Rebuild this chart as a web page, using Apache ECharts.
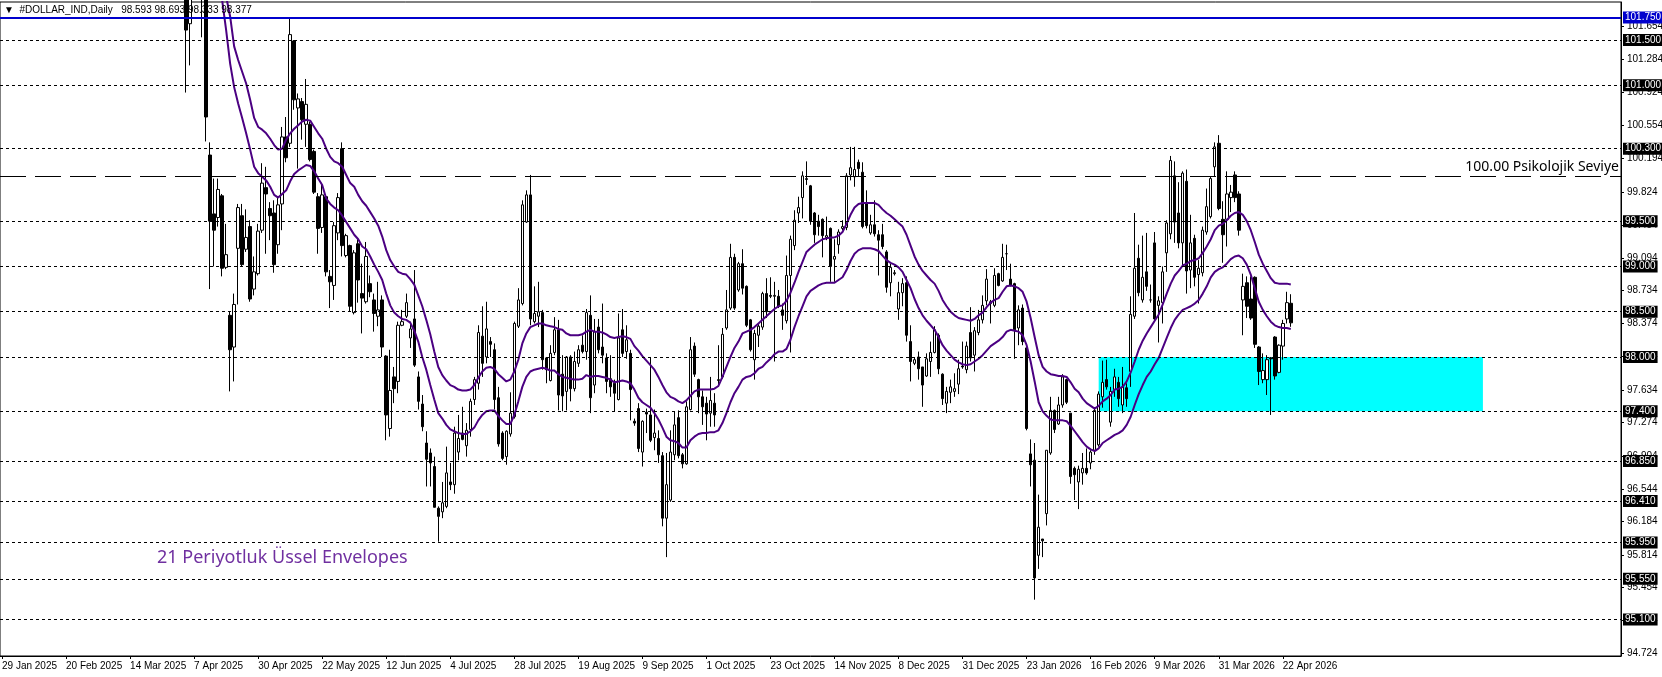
<!DOCTYPE html>
<html><head><meta charset="utf-8">
<script src="https://cdn.jsdelivr.net/npm/echarts@6/dist/echarts.min.js"></script>
<style>html,body{margin:0;padding:0;background:#fff}#c{width:1662px;height:677px}</style>
</head><body><div id="c"></div>
<script>
// ---- data ----
const symbolName = '#DOLLAR_IND,Daily';
const indicatorText = '21 Periyotluk Üssel Envelopes';
const psychText = '100.00 Psikolojik Seviye';
const slotCount = 405;           // daily slots shown (incl. empty right margin)
const firstBar = 46;             // bars before this are above the visible range
const dateLabels = ['29 Jan 2025','20 Feb 2025','14 Mar 2025','7 Apr 2025','30 Apr 2025','22 May 2025','12 Jun 2025','4 Jul 2025','28 Jul 2025','19 Aug 2025','9 Sep 2025','1 Oct 2025','23 Oct 2025','14 Nov 2025','8 Dec 2025','31 Dec 2025','23 Jan 2026','16 Feb 2026','9 Mar 2026','31 Mar 2026','22 Apr 2026'];
const labelEvery = 16;
const priceTicks = [94.724,95.094,95.454,95.814,96.184,96.544,96.904,97.274,97.634,98.004,98.374,98.734,99.094,99.454,99.824,100.194,100.554,100.924,101.284,101.654];
const priceMin = 94.698, priceMax = 101.92;
const dottedLevels = [101.5,101.0,100.3,99.5,99.0,98.5,98.0,97.4,96.85,96.41,95.95,95.55,95.1];
const blueLevel = 101.75;
const psychLevel = 100.0;
const zoneTop = 98.0, zoneBottom = 97.4, zoneStart = 274, zoneEnd = 370;

const open = [
102.6,101.68,102.2,102.6,102.3,102.0,100.23,99.58,99.54,99.78,
98.99,98.46,98.11,99.20,99.56,99.19,99.44,98.75,98.92,99.40,
99.87,99.64,99.59,99.24,99.69,100.43,100.36,101.49,100.75,100.82,
100.57,100.57,100.27,99.77,99.43,99.77,98.89,98.79,99.37,100.30,
99.12,99.23,98.49,99.25,98.70,98.61,98.81,98.63,98.45,98.63,
98.01,97.21,97.78,97.73,98.35,98.45,98.21,98.42,97.78,97.48,
97.05,96.94,96.79,96.33,96.29,96.35,96.62,96.59,96.95,97.16,
97.02,97.20,97.53,97.71,98.23,98.00,98.17,98.08,97.55,97.16,
96.90,97.15,97.34,98.34,98.59,99.49,99.79,98.39,98.45,98.49,
97.99,97.74,98.05,98.30,97.81,97.62,98.00,97.65,97.93,98.13,
98.06,98.46,97.69,98.33,98.11,97.99,97.76,97.71,97.53,98.30,
98.06,98.04,97.29,97.43,96.95,97.39,97.36,97.11,97.10,96.91,
96.22,96.42,96.92,97.33,96.92,96.82,97.42,98.12,97.75,97.56,
97.49,97.38,97.49,97.74,97.78,98.32,98.54,99.10,98.74,99.03,
98.78,98.41,97.97,98.24,98.33,98.70,98.68,98.67,98.67,98.52,
98.40,98.90,99.23,99.59,99.76,99.96,99.89,99.59,99.50,99.52,
99.32,99.42,99.08,99.24,99.42,99.43,100.01,99.99,100.15,100.04,
99.69,99.37,99.46,99.35,99.35,99.16,98.82,98.92,98.53,98.71,
98.82,98.17,97.93,98.00,97.89,97.79,97.95,98.05,98.24,97.81,
97.49,97.61,97.62,97.70,97.90,97.86,98.27,98.02,98.27,98.41,
98.62,98.59,98.57,98.92,98.84,99.14,98.86,98.81,98.32,98.54,
98.10,96.93,96.86,95.81,95.99,96.27,96.94,97.41,97.26,97.47,
97.75,97.38,96.77,96.62,96.72,96.77,96.83,96.97,97.03,97.56,
97.75,97.28,97.64,97.72,97.47,97.66,97.84,98.45,99.09,98.63,
98.94,98.63,99.26,98.57,98.60,99.15,99.36,100.00,99.59,99.26,
99.94,98.96,99.31,98.91,98.93,99.38,99.55,100.10,100.36,99.52,
99.52,99.76,100.01,99.80,98.63,98.82,98.64,98.88,98.11,97.75,
97.75,97.99,98.22,97.83,98.12,98.42,98.593];
const high = [
102.8,102.5,102.9,102.9,102.5,102.1,100.37,99.97,99.97,99.80,
99.47,98.50,98.70,99.69,99.69,99.63,99.51,99.11,99.47,100.14,
100.10,99.71,99.73,99.77,100.54,100.65,101.74,101.50,100.91,100.86,
101.07,100.60,100.29,99.81,99.90,99.79,98.96,99.49,99.81,100.37,
99.36,99.24,99.18,99.30,99.03,99.27,98.90,98.70,98.83,98.68,
98.02,98.08,97.89,98.39,98.52,98.70,98.39,98.96,97.84,97.58,
97.18,96.99,96.90,96.35,96.62,97.01,96.83,97.23,97.36,97.45,
97.27,97.54,97.78,98.35,98.56,98.61,98.22,98.15,97.67,97.18,
97.19,97.61,98.39,98.76,99.73,99.84,100.01,98.78,98.83,98.52,
98.00,98.13,98.44,98.41,98.02,98.01,98.02,98.06,98.13,98.24,
98.53,98.68,98.42,98.42,98.59,98.04,98.02,97.75,98.48,98.53,
98.35,98.08,97.32,97.49,97.30,97.43,98.00,97.42,97.19,96.95,
96.94,97.19,97.40,97.41,96.94,97.51,98.22,98.16,97.76,97.63,
97.56,97.78,97.60,98.13,98.32,98.74,99.25,99.14,99.05,99.19,
98.79,98.42,98.30,98.37,98.72,98.87,98.88,98.83,98.74,98.59,
99.12,99.34,99.62,99.77,100.05,100.16,99.90,99.60,99.57,99.53,
99.55,99.43,99.30,99.41,99.51,100.03,100.32,100.32,100.18,100.15,
99.84,99.57,99.73,99.40,99.47,99.18,99.03,98.96,98.83,98.87,
98.89,98.35,97.99,98.06,97.89,98.04,98.17,98.34,98.26,97.82,
97.67,97.75,97.82,97.97,98.17,98.17,98.55,98.33,98.52,98.68,
98.97,98.63,98.98,98.93,99.25,99.24,99.03,98.82,98.57,98.58,
98.11,97.09,97.05,96.48,95.99,96.97,97.56,97.42,97.56,97.81,
97.76,97.38,96.79,96.80,96.94,96.99,96.97,97.43,97.62,97.96,
97.97,97.67,97.87,97.78,97.89,97.71,98.67,99.59,99.24,99.34,
99.37,98.80,99.38,98.67,99.00,99.51,100.22,100.16,99.93,100.05,
100.07,99.57,99.35,99.07,99.44,99.86,99.99,100.37,100.45,99.72,
100.05,99.90,100.05,99.83,98.92,98.89,98.89,98.89,98.12,98.04,
98.02,98.00,98.23,98.14,98.41,98.72,98.693];
const low = [
100.92,101.22,102.0,102.0,101.53,100.38,98.75,99.0,99.44,98.89,
98.97,97.62,97.73,98.58,99.0,99.16,98.61,98.68,98.90,99.37,
99.14,99.29,98.93,99.14,99.40,100.15,100.32,100.73,100.08,100.40,
100.32,100.16,99.80,99.14,99.37,98.89,98.54,98.63,99.29,99.11,
99.10,98.50,98.47,98.60,98.26,98.59,98.66,98.28,98.34,98.00,
97.08,97.12,97.49,97.60,98.34,98.43,98.10,97.89,97.42,97.18,
96.57,96.57,96.34,95.96,96.22,96.33,96.53,96.49,96.86,97.08,
96.90,97.12,97.47,97.64,97.78,97.93,98.00,97.42,97.01,96.86,
96.81,97.12,97.32,98.32,98.57,99.48,98.35,98.37,98.33,97.86,
97.71,97.73,98.02,97.41,97.40,97.41,97.51,97.62,97.89,98.04,
97.97,97.38,97.60,98.04,97.93,97.60,97.56,97.40,97.52,98.00,
97.98,97.30,97.24,96.95,96.79,97.16,97.06,96.97,96.83,96.13,
95.79,96.40,96.86,96.88,96.77,96.81,97.41,97.78,97.38,97.25,
97.08,97.23,97.23,97.67,97.76,98.30,98.52,98.52,98.72,98.69,
98.33,98.06,97.75,98.11,98.30,98.43,98.65,97.95,98.54,98.30,
98.37,98.05,99.18,99.48,99.53,99.90,99.46,99.26,99.34,99.10,
99.29,98.83,98.83,99.14,99.40,99.40,99.95,99.88,99.99,99.42,
99.42,99.35,99.33,98.90,99.19,98.71,98.67,98.90,98.41,98.56,
98.17,97.73,97.91,97.75,97.45,97.78,97.78,98.04,97.81,97.47,
97.38,97.49,97.56,97.59,97.87,97.82,97.95,97.84,98.24,98.37,
98.57,98.37,98.55,98.78,98.83,98.96,98.78,97.98,98.13,98.13,
97.19,96.57,95.32,95.66,95.79,96.14,96.92,97.16,97.25,97.44,
97.48,96.60,96.42,96.32,96.59,96.70,96.76,96.92,97.01,97.44,
97.64,97.23,97.56,97.45,97.38,97.45,97.67,98.42,98.67,98.60,
98.73,98.60,98.41,98.16,98.37,98.94,99.30,99.26,99.20,99.00,
98.70,98.76,98.78,98.59,98.89,99.35,99.53,99.99,99.62,99.04,
99.22,99.60,99.71,99.34,98.24,98.43,98.41,98.10,97.69,97.71,
97.58,97.36,97.75,97.82,97.97,98.37,98.333];
const close = [
101.61,102.2,102.6,102.3,102.0,100.65,99.50,99.40,99.85,98.98,
99.13,98.08,98.58,99.65,99.02,99.32,98.64,98.94,99.39,99.92,
99.80,99.56,99.02,99.68,100.43,100.20,101.56,100.84,100.85,100.62,
100.79,100.18,99.82,99.42,99.79,98.94,98.83,99.45,99.76,99.23,
99.34,98.56,99.15,98.85,98.65,99.11,98.72,98.48,98.52,98.11,
97.36,97.63,97.65,98.35,98.39,98.60,98.31,97.91,97.51,97.23,
96.87,96.83,96.34,96.24,96.39,96.72,96.59,97.16,97.10,97.09,
97.19,97.51,97.75,98.27,97.93,98.31,98.14,97.53,97.04,96.88,
97.18,97.38,98.37,98.63,99.68,99.79,98.42,98.48,98.50,97.97,
97.86,98.04,98.30,97.58,97.57,98.00,97.65,97.95,98.08,98.06,
98.49,97.55,98.28,98.08,98.02,97.73,97.67,97.60,98.21,98.04,
98.19,97.64,97.27,96.99,97.29,97.37,97.08,97.16,96.92,96.22,
96.59,96.95,97.25,96.91,96.82,97.45,98.08,97.81,97.56,97.45,
97.37,97.52,97.36,97.75,98.25,98.52,99.10,98.54,99.03,98.76,
98.35,98.08,98.26,98.34,98.70,98.50,98.67,98.68,98.56,98.46,
98.90,99.30,99.51,99.65,100.00,99.97,99.50,99.35,99.44,99.34,
99.34,99.00,99.11,99.38,99.44,100.00,100.09,100.07,100.08,99.44,
99.45,99.46,99.36,99.29,99.22,98.77,98.99,98.93,98.71,98.81,
98.24,97.95,97.97,97.87,97.69,97.98,98.05,98.30,97.87,97.54,
97.62,97.67,97.65,97.87,97.89,98.12,97.99,98.29,98.41,98.57,
98.86,98.61,98.90,98.79,99.10,99.14,98.79,98.30,98.52,98.17,
97.21,96.81,95.56,96.12,95.97,96.97,97.41,97.20,97.47,97.78,
97.50,96.68,96.70,96.76,96.77,96.72,96.95,97.41,97.59,97.72,
97.67,97.62,97.78,97.54,97.67,97.54,98.47,98.98,98.71,98.88,
98.78,98.63,98.42,98.62,98.94,99.48,100.17,99.49,99.26,100.03,
98.95,99.26,98.88,98.98,99.40,99.66,99.97,100.32,99.64,99.35,
99.80,99.82,99.76,99.40,98.78,98.56,98.43,98.14,97.84,97.85,
97.97,97.98,97.79,98.13,98.37,98.60,98.377];

const envUpperStart = 55;
const envUpper = [
102.2,101.98,101.76,101.43,101.28,101.15,101.02,100.84,100.64,100.54,
100.51,100.47,100.41,100.34,100.29,100.30,100.40,100.47,100.52,100.56,
100.60,100.62,100.61,100.54,100.47,100.41,100.30,100.21,100.16,100.14,
100.10,100.01,99.92,99.88,99.79,99.72,99.67,99.60,99.53,99.45,
99.33,99.18,99.07,99.00,98.94,98.92,98.91,98.86,98.80,98.68,
98.56,98.41,98.25,98.06,97.89,97.80,97.74,97.69,97.67,97.64,
97.63,97.63,97.64,97.69,97.77,97.84,97.88,97.89,97.87,97.81,
97.77,97.73,97.75,97.84,97.97,98.15,98.26,98.33,98.35,98.37,
98.37,98.35,98.34,98.33,98.31,98.30,98.26,98.24,98.24,98.24,
98.25,98.28,98.30,98.28,98.28,98.27,98.25,98.22,98.21,98.22,
98.23,98.22,98.20,98.12,98.07,98.01,97.96,97.91,97.86,97.78,
97.69,97.61,97.56,97.54,97.51,97.49,97.52,97.57,97.62,97.64,
97.64,97.64,97.64,97.65,97.68,97.78,97.89,98.00,98.10,98.17,
98.26,98.28,98.30,98.33,98.37,98.41,98.45,98.49,98.53,98.56,
98.57,98.62,98.71,98.82,98.94,99.05,99.16,99.20,99.24,99.27,
99.30,99.31,99.32,99.32,99.34,99.38,99.47,99.57,99.65,99.69,
99.70,99.70,99.70,99.70,99.68,99.63,99.59,99.56,99.52,99.48,
99.44,99.35,99.23,99.11,99.02,98.95,98.90,98.85,98.81,98.73,
98.63,98.56,98.50,98.46,98.43,98.42,98.41,98.40,98.42,98.46,
98.49,98.55,98.60,98.63,98.65,98.72,98.78,98.79,98.78,98.76,
98.72,98.61,98.43,98.22,98.02,97.89,97.84,97.81,97.80,97.79,
97.79,97.78,97.72,97.65,97.61,97.54,97.49,97.46,97.43,97.46,
97.51,97.54,97.58,97.64,97.65,97.67,97.73,97.83,97.95,98.08,
98.18,98.26,98.33,98.40,98.47,98.58,98.70,98.81,98.90,98.95,
99.01,99.03,99.06,99.07,99.09,99.15,99.22,99.30,99.40,99.45,
99.47,99.51,99.56,99.59,99.60,99.57,99.50,99.40,99.27,99.13,
99.03,98.95,98.87,98.82,98.81,98.81,98.81,98.80];
const envLowerStart = 54;
const envLower = [
102.25,101.94,101.61,101.24,100.98,100.80,100.64,100.47,100.29,100.10,
100.03,99.99,99.95,99.88,99.79,99.76,99.80,99.84,99.94,100.02,
100.06,100.09,100.12,100.11,100.05,99.97,99.90,99.75,99.69,99.65,
99.62,99.56,99.49,99.42,99.35,99.30,99.22,99.19,99.11,99.02,
98.94,98.85,98.70,98.57,98.49,98.45,98.42,98.41,98.38,98.29,
98.17,98.00,97.86,97.69,97.53,97.38,97.32,97.25,97.20,97.18,
97.16,97.15,97.15,97.18,97.22,97.30,97.36,97.40,97.41,97.41,
97.35,97.30,97.26,97.26,97.36,97.51,97.67,97.78,97.84,97.86,
97.87,97.88,97.87,97.85,97.85,97.81,97.78,97.77,97.76,97.75,
97.75,97.76,97.80,97.78,97.79,97.79,97.78,97.77,97.75,97.72,
97.73,97.74,97.73,97.71,97.64,97.55,97.50,97.47,97.44,97.38,
97.31,97.22,97.12,97.08,97.07,97.05,97.00,97.00,97.08,97.12,
97.15,97.16,97.16,97.17,97.17,97.19,97.27,97.38,97.50,97.60,
97.67,97.75,97.78,97.79,97.82,97.87,97.89,97.94,97.98,98.03,
98.06,98.06,98.09,98.19,98.33,98.45,98.56,98.67,98.73,98.76,
98.79,98.81,98.82,98.82,98.82,98.85,98.88,98.96,99.06,99.14,
99.18,99.20,99.20,99.20,99.19,99.17,99.12,99.07,99.04,99.02,
98.99,98.94,98.85,98.76,98.64,98.54,98.46,98.40,98.35,98.30,
98.22,98.13,98.07,98.02,97.97,97.94,97.92,97.91,97.92,97.95,
97.98,98.02,98.07,98.12,98.15,98.18,98.22,98.28,98.30,98.29,
98.28,98.24,98.13,97.95,97.73,97.50,97.40,97.35,97.31,97.30,
97.30,97.30,97.29,97.24,97.18,97.12,97.06,97.01,96.98,96.96,
96.99,97.05,97.08,97.11,97.14,97.16,97.19,97.25,97.34,97.47,
97.59,97.69,97.78,97.84,97.92,97.99,98.10,98.21,98.32,98.41,
98.47,98.52,98.54,98.56,98.59,98.63,98.70,98.78,98.88,98.94,
98.97,98.99,99.03,99.08,99.11,99.12,99.09,99.02,98.91,98.76,
98.61,98.52,98.45,98.39,98.35,98.33,98.32,98.32,98.31];

// ---- build ----
const AXF = "'Liberation Sans', Arial, sans-serif";
const cats = Array.from({length: slotCount}, (_, i) => String(i));
const candleData = [];
for (let i = 0; i < firstBar + open.length; i++) {
  const k = i - firstBar;
  candleData.push(k < 0 ? ['-','-','-','-'] : [open[k], close[k], low[k], high[k]]);
}
const pad = (n) => Array.from({length: n}, () => '-');
const upperData = pad(envUpperStart).concat(envUpper);
const lowerData = pad(envLowerStart).concat(envLower);
const last = open.length - 1;
const lastClose = close[last];

const boxLabel = (bg) => ({
  show: true, position: 'end', distance: 2,
  formatter: (p) => Number(p.value).toFixed(3),
  backgroundColor: bg, color: '#fff', padding: [1, 2, 0, 2],
  fontSize: 10, lineHeight: 11, fontFamily: AXF
});
const markLines = [];
dottedLevels.forEach(v => markLines.push({
  yAxis: v, lineStyle: {type: [3, 3], color: '#000', width: 1}, label: boxLabel('#000')
}));
markLines.push({yAxis: blueLevel, lineStyle: {type: 'solid', color: '#0000CD', width: 2}, label: boxLabel('#0000CD')});
markLines.push({yAxis: psychLevel, lineStyle: {type: [26, 9], color: '#000', width: 1},
  label: {show: true, position: 'insideEndTop', distance: 2, formatter: psychText, color: '#000',
          fontSize: 14, fontFamily: "'Noto Sans', sans-serif", padding: [0, 0, 0, 0]}});
markLines.push({yAxis: psychLevel, lineStyle: {opacity: 0}, label: boxLabel('#000')});
markLines.push({yAxis: lastClose, lineStyle: {opacity: 0}, label: boxLabel('#000')});

const isLabelIdx = (i) => i % labelEvery === 0 && i / labelEvery < dateLabels.length;

const chart = echarts.init(document.getElementById('c'), null, {renderer: 'canvas'});
chart.setOption({
  animation: false,
  backgroundColor: '#fff',
  grid: {left: 0, right: 41, top: 2, bottom: 21, containLabel: false, outerBoundsMode: 'none',
         show: true, borderColor: '#000', borderWidth: 1, backgroundColor: '#fff'},
  xAxis: {
    type: 'category', data: cats, boundaryGap: true,
    axisLine: {lineStyle: {color: '#000', width: 1}},
    axisTick: {show: true, alignWithLabel: true, length: 3, interval: (i) => isLabelIdx(i), lineStyle: {color: '#000'}},
    axisLabel: {interval: (i) => isLabelIdx(i), formatter: (v, i) => dateLabels[Math.round(Number(v) / labelEvery)] || '',
      align: 'left', margin: 5, fontSize: 10, color: '#000', fontFamily: AXF, hideOverlap: false},
    splitLine: {show: false}
  },
  yAxis: {
    type: 'value', position: 'right', min: priceMin, max: priceMax,
    axisLine: {show: true, lineStyle: {color: '#000'}},
    axisTick: {show: true, length: 3, customValues: priceTicks, lineStyle: {color: '#000'}},
    axisLabel: {customValues: priceTicks, formatter: (v) => Number(v).toFixed(3), fontSize: 10, color: '#000', fontFamily: AXF, margin: 6, hideOverlap: false},
    splitLine: {show: false}
  },
  series: [
    {
      name: 'zone', type: 'line', data: [], z: 1, silent: true,
      markArea: {silent: true, itemStyle: {color: '#00FFFF', opacity: 1},
        data: [[{xAxis: zoneStart, yAxis: zoneTop}, {xAxis: zoneEnd, yAxis: zoneBottom}]]},
      markLine: {silent: true, symbol: ['none', 'none'], animation: false, data: markLines}
    },
    {
      name: 'price', type: 'candlestick', data: candleData, z: 3, barWidth: 3,
      itemStyle: {color: '#ffffff', color0: '#000000', borderColor: '#000000', borderColor0: '#000000', borderWidth: 1}
    },
    {name: 'Env upper', type: 'line', data: upperData, z: 4, symbol: 'none', showSymbol: false,
      lineStyle: {color: '#4B0082', width: 2}, silent: true},
    {name: 'Env lower', type: 'line', data: lowerData, z: 4, symbol: 'none', showSymbol: false,
      lineStyle: {color: '#4B0082', width: 2}, silent: true}
  ],
  graphic: [
    {type: 'text', left: 4, top: 5, z: 100,
      style: {text: '\u25BC  ' + symbolName + '   ' + [open[last], high[last], low[last], close[last]].map(v => v.toFixed(3)).join(' '),
              font: '10px ' + AXF, fill: '#000'}},
    {type: 'text', left: 157, top: 549, z: 100,
      style: {text: indicatorText, font: '18px "Noto Sans", sans-serif', fill: '#7030A0'}}
  ]
});
</script>
</body></html>
